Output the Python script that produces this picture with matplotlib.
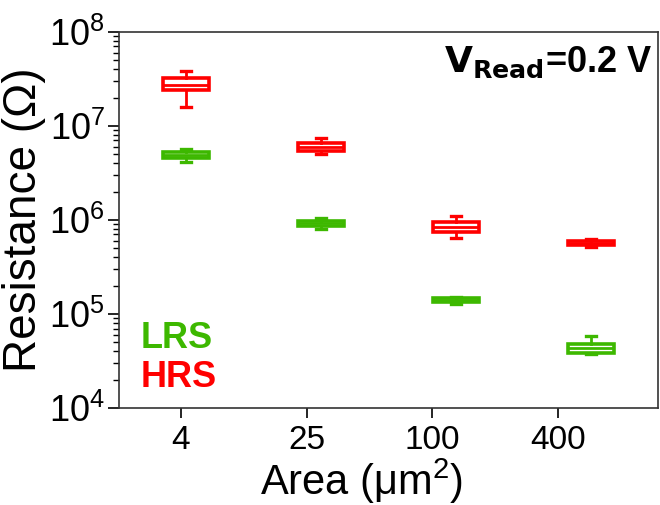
import math
import matplotlib
matplotlib.use("Agg")
import matplotlib.pyplot as plt
from matplotlib.ticker import LogLocator, FuncFormatter, NullFormatter

plt.rcParams['font.family'] = ['Liberation Sans', 'DejaVu Sans']
plt.rcParams['mathtext.default'] = 'regular'

areas = ["4", "25", "100", "400"]

# HRS box statistics (Ohm)
hrs_whislo = [1.59e7, 5.04e6, 6.4e5, 5.17e5]
hrs_q1     = [2.42e7, 5.42e6, 7.45e5, 5.42e5]
hrs_med    = [2.73e7, 5.98e6, 8.4e5, 5.69e5]
hrs_q3     = [3.24e7, 6.59e6, 9.5e5, 5.98e5]
hrs_whishi = [3.85e7, 7.45e6, 1.1e6, 6.28e5]

# LRS box statistics (Ohm)
lrs_whislo = [4.14e6, 8.0e5, 1.28e5, 3.75e4]
lrs_q1     = [4.55e6, 8.7e5, 1.33e5, 3.85e4]
lrs_med    = [4.9e6, 9.19e5, 1.40e5, 4.35e4]
lrs_q3     = [5.3e6, 9.7e5, 1.47e5, 4.8e4]
lrs_whishi = [5.69e6, 1.05e6, 1.52e5, 5.83e4]

RED = '#FF0000'
GREEN = '#3DB800'

fig = plt.figure(figsize=(6.6, 5.05), dpi=100)
ax = fig.add_axes([0.180, 0.192, 0.817, 0.745])

tick_pos = [1, 2, 3, 4]
box_pos = [1.04, 2.114, 3.188, 4.263]


def stats(lo, q1, med, q3, hi):
    return [dict(whislo=a, q1=b, med=c, q3=d, whishi=e, fliers=[])
            for a, b, c, d, e in zip(lo, q1, med, q3, hi)]


for st, col in [(stats(hrs_whislo, hrs_q1, hrs_med, hrs_q3, hrs_whishi), RED),
                (stats(lrs_whislo, lrs_q1, lrs_med, lrs_q3, lrs_whishi), GREEN)]:
    ax.bxp(st, positions=box_pos, widths=0.366, showfliers=False,
           patch_artist=True,
           boxprops=dict(facecolor='white', edgecolor=col, linewidth=2.6),
           medianprops=dict(color=col, linewidth=2.0),
           whiskerprops=dict(color=col, linewidth=2.0),
           capprops=dict(color=col, linewidth=2.4),
           capwidths=0.075)

ax.set_yscale('log')
ax.set_ylim(1e4, 1e8)
ax.set_xlim(0.507, 4.795)
ax.set_xticks(tick_pos)
ax.set_xticklabels(areas)

ax.yaxis.set_major_locator(LogLocator(base=10, numticks=10))
ax.yaxis.set_minor_locator(LogLocator(base=10, subs=range(2, 10), numticks=20))
ax.yaxis.set_minor_formatter(NullFormatter())
ax.yaxis.set_major_formatter(FuncFormatter(lambda v, p: r'$10^{%d}$' % round(math.log10(v))))

ax.tick_params(axis='y', which='major', direction='out', length=8, width=1.2,
               labelsize=26, pad=2)
ax.tick_params(axis='y', which='minor', direction='out', length=4, width=1.0)
ax.tick_params(axis='x', which='major', direction='out', length=7, width=1.2,
               labelsize=24, pad=5)
ax.tick_params(top=False, right=False)

for s in ax.spines.values():
    s.set_linewidth(1.2)
    s.set_color('#333333')

ax.set_ylabel('Resistance (\u03a9)', fontsize=33, labelpad=2)
ax.set_xlabel(r'Area ($\mu$m$^2$)', fontsize=30, labelpad=0)
ax.xaxis.set_label_coords(0.451, -0.128)

ax.text(0.99, 0.965, r'$\mathbf{V_{Read}}$=0.2 V', transform=ax.transAxes,
        ha='right', va='top', fontsize=26, fontweight='bold')
ax.text(0.04, 0.185, 'LRS', transform=ax.transAxes, ha='left', va='center',
        fontsize=26, fontweight='bold', color=GREEN)
ax.text(0.04, 0.08, 'HRS', transform=ax.transAxes, ha='left', va='center',
        fontsize=26, fontweight='bold', color=RED)

fig.savefig('out.png', dpi=100)
